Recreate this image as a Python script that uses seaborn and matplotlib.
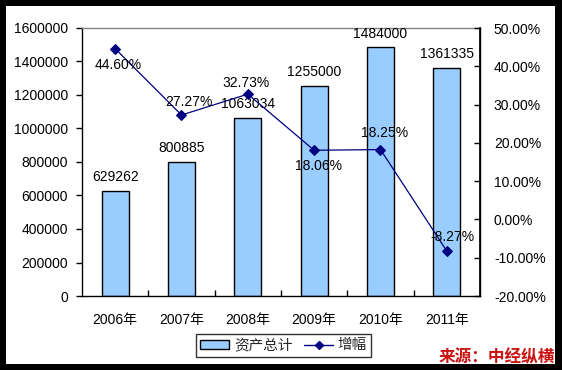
import numpy as np
import pandas as pd
import matplotlib
matplotlib.use("Agg")
import matplotlib.pyplot as plt
from matplotlib.patches import Rectangle, Patch
from matplotlib.lines import Line2D
from matplotlib.ticker import FuncFormatter, MultipleLocator
import seaborn as sns

# ---- data ----
years = ["2006年", "2007年", "2008年", "2009年", "2010年", "2011年"]
assets = [629262, 800885, 1063034, 1255000, 1484000, 1361335]
growth = [44.60, 27.27, 32.73, 18.06, 18.25, -8.27]
bar_name = "资产总计"
line_name = "增幅"
source_text = "来源：中经纵横"

# ---- style ----
sns.set_theme(style="white")
plt.rcParams['font.family'] = ['Liberation Sans', 'Noto Sans CJK SC', 'DejaVu Sans']
plt.rcParams['axes.unicode_minus'] = False

BAR_COLOR = "#99CCFF"
LINE_COLOR = "#000080"

fig = plt.figure(figsize=(5.62, 3.70), dpi=100)
fig.patch.set_facecolor("black")
fig.patches.append(Rectangle((6/562, 6/370), 549/562, 358/370, transform=fig.transFigure,
                             facecolor="white", edgecolor="none", zorder=-10))

ax = fig.add_axes([82/562, 74/370, 398/562, 268/370])
ax.set_facecolor("white")

df = pd.DataFrame({"year": years, "assets": assets})
sns.barplot(data=df, x="year", y="assets", ax=ax, color=BAR_COLOR, width=0.41,
            edgecolor="black", linewidth=1.0, saturation=1)
ax.set_xlim(-0.5, len(years) - 0.5)
ax.set_ylim(0, 1600000)
ax.yaxis.set_major_locator(MultipleLocator(200000))
ax.yaxis.set_major_formatter(FuncFormatter(lambda v, p: f"{int(v)}"))
ax.set_xlabel("")
ax.set_ylabel("")
ax.tick_params(axis="y", direction="out", length=4, width=1, color="black",
               labelsize=10, pad=6, left=True, labelcolor="black")
ax.tick_params(axis="x", bottom=False, labelsize=10, pad=6, labelcolor="black")
# category boundary ticks (inward)
ax.set_xticks(np.arange(0.5, len(years) - 0.5, 1.0), minor=True)
ax.tick_params(axis="x", which="minor", direction="in", length=4, width=1,
               color="black", bottom=True)
for s in ["left", "bottom", "right"]:
    ax.spines[s].set_color("black")
    ax.spines[s].set_linewidth(1.0)
ax.spines["top"].set_color("#808080")
ax.spines["top"].set_linewidth(1.0)

for i, v in enumerate(assets):
    ax.annotate(str(v), (i, v), xytext=(0, 10), textcoords="offset points",
                ha="center", va="center", fontsize=10, color="black", zorder=5)

ax2 = ax.twinx()
sns.lineplot(x=np.arange(len(years)), y=growth, ax=ax2, color=LINE_COLOR,
             linewidth=0.9, marker="D", markersize=5, markeredgecolor=LINE_COLOR,
             markerfacecolor=LINE_COLOR)
ax2.set_ylim(-20, 50)
ax2.set_xlim(-0.5, len(years) - 0.5)
ax2.yaxis.set_major_locator(MultipleLocator(10))
ax2.yaxis.set_major_formatter(FuncFormatter(lambda v, p: f"{v:.2f}%"))
ax2.tick_params(axis="y", direction="in", length=4, width=1, color="black",
                labelsize=10, pad=10, right=True, labelcolor="black")
for s in ax2.spines.values():
    s.set_visible(False)
ax2.spines["right"].set_visible(True)
ax2.spines["right"].set_color("black")

line_offsets = [(2, -12), (5, 9.5), (-1, 8), (3, -11), (3, 12), (4, 10)]
for i, (g, off) in enumerate(zip(growth, line_offsets)):
    ax2.annotate(f"{g:.2f}%", (i, g), xytext=off, textcoords="offset points",
                 ha="center", va="center", fontsize=10, color="black", zorder=6)

handles = [Patch(facecolor=BAR_COLOR, edgecolor="black", linewidth=1.0),
           Line2D([0], [0], color=LINE_COLOR, linewidth=1, marker="D", markersize=4)]
leg = fig.legend(handles, [bar_name, line_name], loc="center",
                 bbox_to_anchor=(283.5/562, (370 - 345.5)/370), ncol=2,
                 frameon=True, fancybox=False, edgecolor="black", fontsize=10.5,
                 handlelength=2.0, handleheight=0.6, handletextpad=0.3,
                 columnspacing=0.8, borderpad=0.3, borderaxespad=0)
leg.get_frame().set_linewidth(1.0)

fig.text(555/562, (370 - 357)/370, source_text, ha="right", va="center",
         fontsize=12, fontweight="bold", color="#CC1111",
         family=['Noto Sans CJK SC', 'DejaVu Sans'], zorder=10)

fig.savefig("out.png", dpi=100, facecolor=fig.get_facecolor())
